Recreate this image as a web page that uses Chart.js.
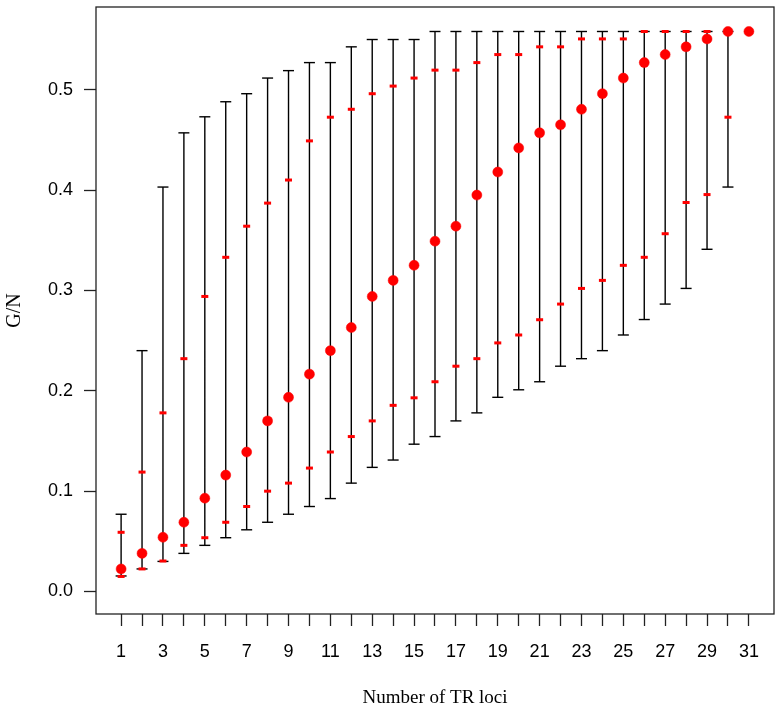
<!DOCTYPE html>
<html>
<head>
<meta charset="utf-8">
<script src="https://cdn.jsdelivr.net/npm/chart.js@4/dist/chart.umd.min.js"></script>
<style>
    html, body { margin: 0; padding: 0; background: #fff; }
    #wrap { width: 782px; height: 712px; }
</style>
</head>
<body>
<div id="wrap"><canvas id="gnChart"></canvas></div>
<script>
// Number of TR loci
const loci = [1, 2, 3, 4, 5, 6, 7, 8, 9, 10, 11, 12, 13, 14, 15, 16,
              17, 18, 19, 20, 21, 22, 23, 24, 25, 26, 27, 28, 29, 30, 31];

// G/N mean (red dots)
const gnMean = [0.0225, 0.038, 0.054, 0.069, 0.093, 0.116, 0.139, 0.170, 0.1935, 0.2166,
                0.240, 0.263, 0.294, 0.310, 0.325, 0.349, 0.364, 0.395, 0.418, 0.442,
                0.457, 0.465, 0.4805, 0.496, 0.5116, 0.527, 0.535, 0.5427, 0.5506, 0.558, 0.558];

// full range (black whiskers)
const gnMin = [0.0155, 0.0225, 0.030, 0.038, 0.046, 0.0536, 0.0615, 0.069, 0.077, 0.0847,
               0.0926, 0.108, 0.1237, 0.131, 0.1468, 0.1544, 0.170, 0.178, 0.1935, 0.201,
               0.209, 0.2245, 0.232, 0.240, 0.2556, 0.271, 0.2864, 0.302, 0.341, 0.403, 0.558];
const gnMax = [0.077, 0.240, 0.403, 0.457, 0.473, 0.488, 0.496, 0.5116, 0.519, 0.527,
               0.527, 0.5427, 0.550, 0.550, 0.550, 0.558, 0.558, 0.558, 0.558, 0.558,
               0.558, 0.558, 0.558, 0.558, 0.558, 0.558, 0.558, 0.558, 0.558, 0.558, 0.558];

// inner interval (red ticks)
const gnLow = [0.015, 0.0225, 0.0304, 0.046, 0.0536, 0.069, 0.0847, 0.100, 0.108, 0.123,
               0.139, 0.1544, 0.170, 0.1855, 0.193, 0.209, 0.2245, 0.232, 0.2477, 0.2556,
               0.2708, 0.2864, 0.302, 0.310, 0.325, 0.333, 0.3565, 0.3876, 0.3955, 0.4726, 0.558];
const gnHigh = [0.059, 0.119, 0.178, 0.232, 0.294, 0.333, 0.364, 0.387, 0.410, 0.449,
                0.4726, 0.4805, 0.496, 0.5036, 0.5116, 0.5195, 0.5195, 0.527, 0.535, 0.535,
                0.5427, 0.5427, 0.5506, 0.5506, 0.5506, 0.558, 0.558, 0.558, 0.558, 0.558, 0.558];

const xTicks = loci;
const yTicks = [0, 0.1, 0.2, 0.3, 0.4, 0.5];

const RED = '#ff0000';
const SANS = "'Liberation Sans', Arial, sans-serif";
const SERIF = "'Liberation Serif', 'Times New Roman', serif";

// vertical whiskers: lo -> hi, broken by null between loci
const whiskers = [];
loci.forEach((x, i) => {
    whiskers.push({ x: x, y: gnMin[i] }, { x: x, y: gnMax[i] }, { x: x, y: null });
});

const pts = (vals) => loci.map((x, i) => ({ x: x, y: vals[i] }));

// box around the plot region, like R's box()
const boxPlugin = {
    id: 'plotBox',
    afterDatasetsDraw(chart) {
        const { ctx, chartArea: a } = chart;
        ctx.save();
        ctx.strokeStyle = '#222';
        ctx.lineWidth = 1.3;
        ctx.strokeRect(a.left, a.top, a.right - a.left, a.bottom - a.top);
        ctx.restore();
    }
};

const ctx = document.getElementById('gnChart').getContext('2d');

new Chart(ctx, {
    type: 'scatter',
    data: {
        datasets: [
            {
                label: 'mean',
                data: pts(gnMean),
                pointStyle: 'circle',
                pointRadius: 5,
                pointBackgroundColor: RED,
                pointBorderColor: RED,
                pointBorderWidth: 0.5,
                order: 0
            },
            {
                label: 'low',
                data: pts(gnLow),
                pointStyle: 'line',
                pointRadius: 3.5,
                pointBorderColor: RED,
                pointBorderWidth: 3,
                order: 1
            },
            {
                label: 'high',
                data: pts(gnHigh),
                pointStyle: 'line',
                pointRadius: 3.5,
                pointBorderColor: RED,
                pointBorderWidth: 3,
                order: 1
            },
            {
                label: 'range',
                data: whiskers,
                showLine: true,
                spanGaps: false,
                borderColor: '#000',
                borderWidth: 1.4,
                pointStyle: 'line',
                pointRadius: (c) => {
                    const d = c.raw;
                    if (!d || d.y === null) return 0;
                    const i = loci.indexOf(d.x);
                    return gnMin[i] === gnMax[i] ? 0 : 5.5;
                },
                pointBorderColor: '#000',
                pointBorderWidth: 1.4,
                order: 2
            }
        ]
    },
    options: {
        responsive: true,
        maintainAspectRatio: false,
        animation: false,
        events: [],
        layout: { padding: { top: 6, right: 8, left: 0, bottom: 0 } },
        plugins: {
            legend: { display: false },
            tooltip: { enabled: false }
        },
        scales: {
            x: {
                type: 'linear',
                min: -0.2,
                max: 32.2,
                afterBuildTicks: (s) => { s.ticks = xTicks.map(v => ({ value: v })); },
                afterFit: (s) => {
                    s.height = 98;
                    s.paddingLeft = 0;
                    s.paddingRight = 0;
                },
                border: { display: false },
                grid: {
                    drawOnChartArea: false,
                    drawTicks: true,
                    tickLength: 12,
                    tickColor: '#222',
                    tickWidth: 1.3
                },
                ticks: {
                    autoSkip: false,
                    maxRotation: 0,
                    padding: 15,
                    color: '#000',
                    font: { family: SANS, size: 18 },
                    callback: (v) => (v % 2 === 1 ? String(v) : '')
                },
                title: {
                    display: true,
                    text: 'Number of TR loci',
                    color: '#000',
                    font: { family: SERIF, size: 19 },
                    padding: { top: 0, bottom: 3 }
                }
            },
            y: {
                type: 'linear',
                min: -0.0224,
                max: 0.5824,
                afterBuildTicks: (s) => { s.ticks = yTicks.map(v => ({ value: v })); },
                afterFit: (s) => {
                    s.width = 96;
                    s.paddingTop = 0;
                    s.paddingBottom = 0;
                },
                border: { display: false },
                grid: {
                    drawOnChartArea: false,
                    drawTicks: true,
                    tickLength: 12,
                    tickColor: '#222',
                    tickWidth: 1.3
                },
                ticks: {
                    padding: 11,
                    color: '#000',
                    font: { family: SANS, size: 18 },
                    callback: (v) => v.toFixed(1)
                },
                title: {
                    display: true,
                    text: 'G/N',
                    color: '#000',
                    font: { family: SERIF, size: 20 },
                    padding: { top: 3, bottom: 0 }
                }
            }
        }
    },
    plugins: [boxPlugin]
});
</script>
</body>
</html>
